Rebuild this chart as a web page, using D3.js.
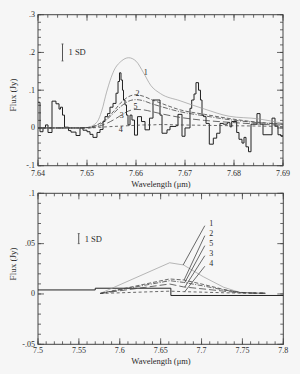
<!DOCTYPE html>
<html><head><meta charset="utf-8">
<script src="https://cdn.jsdelivr.net/npm/d3@7"></script>
<style>
html,body{margin:0;padding:0;background:#f6f6f6;}
svg{display:block;}
text{font-family:"Liberation Serif","DejaVu Serif",serif;fill:#2a2a2a;}
</style>
</head><body>
<svg id="c" width="300" height="374"></svg>
<script>
// ---------- TOP PANEL DATA ----------
const topXTicks = [7.64, 7.65, 7.66, 7.67, 7.68, 7.69];
const topXLabels = ["7.64", "7.65", "7.66", "7.67", "7.68", "7.69"];
const topYTicks = [-0.1, 0, 0.1, 0.2, 0.3];
const topYLabels = ["-.1", "0", ".1", ".2", ".3"];

// observed spectrum (histogram): bin left edges and flux
const histEdges = [7.6400,7.64041,7.64102,7.64153,7.64204,7.64286,7.64367,7.64429,7.64459,7.64500,
  7.64541,7.64622,7.64673,7.64776,7.64857,7.64918,7.65000,7.65061,7.65122,7.65204,
  7.65265,7.65327,7.65367,7.65418,7.65469,7.65531,7.65592,7.65633,7.65663,7.65694,
  7.65724,7.65745,7.65776,7.65806,7.65837,7.65878,7.65918,7.65969,7.66031,7.66112,
  7.66184,7.66276,7.66347,7.66490,7.66531,7.66633,7.66694,7.66816,7.66857,7.66939,
  7.67000,7.67102,7.67137,7.67184,7.67224,7.67276,7.67316,7.67347,7.67378,7.67429,
  7.67496,7.67578,7.67647,7.67714,7.67782,7.67863,7.67918,7.67953,7.68055,7.68102,
  7.68163,7.68204,7.68245,7.68296,7.68347,7.68469,7.68531,7.68592,7.68776,7.68837,
  7.68898,7.68959,7.6900];
const histFlux = [0.068,-0.010,0.000,0.008,-0.012,0.071,0.064,0.050,0.055,0.034,
  0.002,-0.007,-0.011,-0.020,0.000,-0.006,-0.010,-0.017,-0.025,-0.012,
  -0.004,0.017,0.030,0.038,0.055,0.065,0.092,0.123,0.146,0.127,
  0.100,0.074,0.061,0.034,0.008,0.034,0.021,-0.019,0.030,0.017,
  -0.005,0.026,0.074,0.034,-0.014,-0.005,0.004,0.006,0.036,-0.022,
  0.000,0.052,0.074,0.090,0.120,0.100,0.074,0.034,0.030,0.012,
  -0.043,-0.027,-0.014,0.012,0.010,0.014,0.003,0.017,-0.012,-0.030,
  -0.040,-0.025,-0.050,-0.063,0.010,0.038,0.010,-0.018,0.026,0.005,
  -0.018,-0.022];

// model curves (top)
const topModelWave = [7.640,7.648,7.650,7.652,7.653,7.654,7.6555,7.657,7.6585,7.660,7.6615,7.663,7.665,7.669,7.674,7.679,7.685,7.690];
const topModel1 = [0,0,0.001,0.015,0.045,0.095,0.152,0.177,0.186,0.177,0.147,0.113,0.091,0.072,0.050,0.031,0.024,0.012];
const topModel2 = [0,0,0.001,0.008,0.015,0.025,0.045,0.068,0.083,0.088,0.084,0.076,0.066,0.048,0.036,0.025,0.015,0.010];
const topModel5 = [0,0,0.001,0.006,0.012,0.022,0.040,0.058,0.071,0.075,0.072,0.065,0.057,0.043,0.032,0.022,0.014,0.010];
const topModel3 = [0,0,0,0.003,0.007,0.012,0.022,0.034,0.045,0.049,0.048,0.044,0.038,0.028,0.020,0.015,0.010,0.007];
const topModel4 = [0,0,0,0.001,0.002,0.003,0.004,0.005,0.006,0.007,0.008,0.008,0.009,0.008,0.007,0.006,0.005,0.004];
const topLabelText = ["1","2","5","3","4"];
const topLabelWave = [7.6620,7.6603,7.6599,7.6571,7.6569];
const topLabelFlux = [0.148,0.092,0.059,0.034,-0.003];

// ---------- BOTTOM PANEL DATA ----------
const botXTicks = [7.5, 7.55, 7.6, 7.65, 7.7, 7.75, 7.8];
const botXLabels = ["7.5", "7.55", "7.6", "7.65", "7.7", "7.75", "7.8"];
const botYTicks = [-0.05, 0, 0.05, 0.1];
const botYLabels = ["-.05", "0", ".05", ".1"];

const botStepEdges = [7.5, 7.570, 7.6625, 7.8];
const botStepFlux = [0.004, 0.0057, -0.0015];

const botModelWave = [7.576, 7.661, 7.678, 7.702, 7.727, 7.747, 7.762, 7.778];
const botModel1 = [0.0005,0.0310,0.0288,0.0172,0.0067,0.0015,0.0008,0.0006];
const botModel2 = [0.0005,0.0149,0.0139,0.0095,0.0045,0.0016,0.0010,0.0008];
const botModel5 = [0.0005,0.0132,0.0115,0.0080,0.0040,0.0015,0.0010,0.0008];
const botModel3 = [0.0005,0.0099,0.0070,0.0050,0.0028,0.0012,0.0009,0.0007];
const botModel4 = [0.0005,0.0028,0.0023,0.0018,0.0012,0.0009,0.0008,0.0006];
const botLabelText = ["1","2","5","3","4"];
const botLabelWave = [7.7095,7.7095,7.7095,7.7095,7.7095];
const botLabelFlux = [0.0708,0.0609,0.0510,0.0410,0.0305];
const botLeaderEndWave = [7.6775,7.6787,7.6795,7.6795,7.6795];
const botLeaderEndFlux = [0.0288,0.0139,0.0113,0.0068,0.0023];

const sdTop = {wave: 7.645, center: 0.2, half: 0.0225};
const sdBot = {wave: 7.5498, center: 0.055, half: 0.005};

// ---------- DRAW ----------
const svg = d3.select("#c");
const fmtStyles = [
  {stroke:"#9a9a9a", width:0.7, dash:null},        // 1
  {stroke:"#444", width:0.8, dash:"4,2"},          // 2
  {stroke:"#444", width:0.8, dash:"5,1.5,1,1.5"},  // 5
  {stroke:"#444", width:0.8, dash:"7,3"},          // 3
  {stroke:"#444", width:0.8, dash:"3,2.5"}         // 4
];

function frame(x, y, xMaj, xMin, yMaj, yMin, xLab, yLab, xLabY) {
  const g = svg.append("g");
  const [x0, x1] = x.range(), [y0, y1] = y.range(); // y0 bottom, y1 top
  g.append("rect").attr("x", x0).attr("y", y1).attr("width", x1 - x0).attr("height", y0 - y1)
    .attr("fill", "none").attr("stroke", "#444").attr("stroke-width", 1);
  const tick = (xa, ya, xb, yb) => g.append("line").attr("x1", xa).attr("y1", ya).attr("x2", xb).attr("y2", yb)
    .attr("stroke", "#444").attr("stroke-width", 0.8);
  xMin.forEach(v => { const px = x(v); tick(px, y0, px, y0 - 3); tick(px, y1, px, y1 + 3); });
  xMaj.forEach(v => { const px = x(v); tick(px, y0, px, y0 - 6); tick(px, y1, px, y1 + 6); });
  yMin.forEach(v => { const py = y(v); tick(x0, py, x0 + 3, py); tick(x1, py, x1 - 3, py); });
  yMaj.forEach(v => { const py = y(v); tick(x0, py, x0 + 6, py); tick(x1, py, x1 - 6, py); });
  xMaj.forEach((v, i) => g.append("text").attr("x", x(v)).attr("y", xLabY).attr("text-anchor", "middle")
    .attr("font-size", 8).text(xLab[i]));
  yMaj.forEach((v, i) => g.append("text").attr("x", x0 - 3).attr("y", y(v) + 2.5).attr("text-anchor", "end")
    .attr("font-size", 8).text(yLab[i]));
}

function minorRange(a, b, step) {
  const n = Math.round((b - a) / step);
  return d3.range(n + 1).map(i => +(a + i * step).toFixed(6));
}

// TOP
const xT = d3.scaleLinear().domain([7.64, 7.69]).range([38, 283]);
const yT = d3.scaleLinear().domain([-0.1, 0.3]).range([165.7, 14.7]);
frame(xT, yT, topXTicks, minorRange(7.64, 7.69, 0.002), topYTicks, minorRange(-0.1, 0.3, 0.02),
  topXLabels, topYLabels, 175.5);

const histPts = [];
histFlux.forEach((v, i) => { histPts.push([histEdges[i], v]); histPts.push([histEdges[i + 1], v]); });
svg.append("path").attr("d", d3.line().x(d => xT(d[0])).y(d => yT(d[1]))(histPts))
  .attr("fill", "none").attr("stroke", "#222").attr("stroke-width", 1);

const topModels = [topModel1, topModel2, topModel5, topModel3, topModel4];
const lineT = d3.line().x(d => xT(d[0])).y(d => yT(d[1])).curve(d3.curveMonotoneX);
topModels.forEach((m, k) => {
  svg.append("path").attr("d", lineT(topModelWave.map((w, i) => [w, m[i]])))
    .attr("fill", "none").attr("stroke", fmtStyles[k].stroke).attr("stroke-width", fmtStyles[k].width)
    .attr("stroke-dasharray", fmtStyles[k].dash);
});
topLabelText.forEach((t, i) => svg.append("text").attr("x", xT(topLabelWave[i])).attr("y", yT(topLabelFlux[i]) + 3)
  .attr("text-anchor", "middle").attr("font-size", 8).text(t));

function sdBar(x, y, s, textOff) {
  const px = x(s.wave), ya = y(s.center - s.half), yb = y(s.center + s.half);
  svg.append("line").attr("x1", px).attr("x2", px).attr("y1", ya).attr("y2", yb).attr("stroke", "#555").attr("stroke-width", 1);
  [ya, yb].forEach(yy => svg.append("line").attr("x1", px - 1).attr("x2", px + 1).attr("y1", yy).attr("y2", yy).attr("stroke", "#555").attr("stroke-width", 0.8));
  svg.append("text").attr("x", px + textOff).attr("y", y(s.center) + 3).attr("font-size", 8.5).text("1 SD");
}
sdBar(xT, yT, sdTop, 6);

svg.append("text").attr("transform", "translate(16,95) rotate(-90)").attr("text-anchor", "middle")
  .attr("font-size", 9).text("Flux (Jy)");
svg.append("text").attr("x", 161).attr("y", 186.5).attr("text-anchor", "middle").attr("font-size", 8.5).text("Wavelength (μm)");

// BOTTOM
const xB = d3.scaleLinear().domain([7.5, 7.8]).range([38, 283.3]);
const yB = d3.scaleLinear().domain([-0.05, 0.1]).range([344.3, 193.3]);
frame(xB, yB, botXTicks, minorRange(7.5, 7.8, 0.01), botYTicks, minorRange(-0.05, 0.1, 0.01),
  botXLabels, botYLabels, 353);

const stepPts = [];
botStepFlux.forEach((v, i) => { stepPts.push([botStepEdges[i], v]); stepPts.push([botStepEdges[i + 1], v]); });
svg.append("path").attr("d", d3.line().x(d => xB(d[0])).y(d => yB(d[1]))(stepPts))
  .attr("fill", "none").attr("stroke", "#222").attr("stroke-width", 1);

const botModels = [botModel1, botModel2, botModel5, botModel3, botModel4];
const lineB = d3.line().x(d => xB(d[0])).y(d => yB(d[1]));
botModels.forEach((m, k) => {
  svg.append("path").attr("d", lineB(botModelWave.map((w, i) => [w, m[i]])))
    .attr("fill", "none").attr("stroke", fmtStyles[k].stroke).attr("stroke-width", fmtStyles[k].width)
    .attr("stroke-dasharray", fmtStyles[k].dash);
});
botLabelText.forEach((t, i) => {
  svg.append("line").attr("x1", xB(botLabelWave[i]) - 4.5).attr("y1", yB(botLabelFlux[i]) + 3)
    .attr("x2", xB(botLeaderEndWave[i])).attr("y2", yB(botLeaderEndFlux[i]))
    .attr("stroke", "#444").attr("stroke-width", 0.8);
  svg.append("text").attr("x", xB(botLabelWave[i])).attr("y", yB(botLabelFlux[i]) + 3)
    .attr("text-anchor", "start").attr("font-size", 8).text(t);
});
sdBar(xB, yB, sdBot, 6);

svg.append("text").attr("transform", "translate(16,264) rotate(-90)").attr("text-anchor", "middle")
  .attr("font-size", 9).text("Flux (Jy)");
svg.append("text").attr("x", 161).attr("y", 363.5).attr("text-anchor", "middle").attr("font-size", 8.5).text("Wavelength (μm)");
</script>
</body></html>
